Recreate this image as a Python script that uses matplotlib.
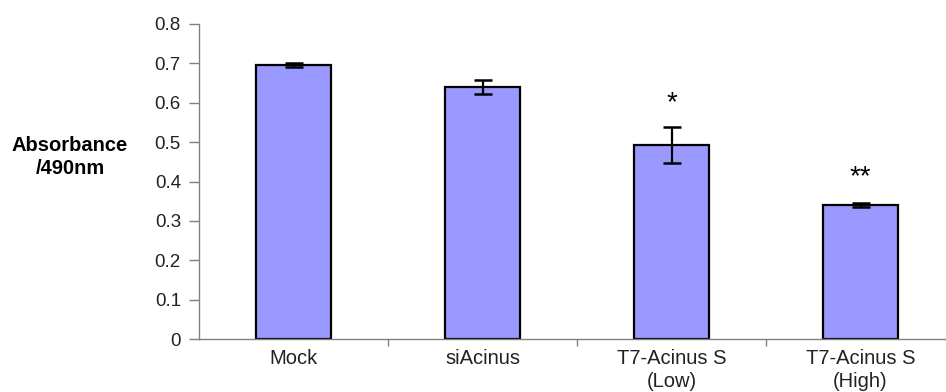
import matplotlib.pyplot as plt
import numpy as np

# data
categories = ['Mock', 'siAcinus', 'T7-Acinus S\n(Low)', 'T7-Acinus S\n(High)']
absorbance = [0.695, 0.639, 0.492, 0.340]
errors = [0.005, 0.018, 0.046, 0.005]
marks = ['', '', '*', '**']
mark_y = [None, None, 0.60, 0.41]

plt.rcParams['font.family'] = ['Liberation Sans', 'DejaVu Sans']

fig = plt.figure(figsize=(9.46, 3.92), dpi=100)
# axes run a little past the right edge of the figure, like the original
ax = fig.add_axes([199 / 946, (392 - 339) / 392, 756 / 946, 315 / 392])

x = np.arange(len(categories))
ax.bar(x, absorbance, width=0.40, color='#9999FF', edgecolor='black', linewidth=1.6, zorder=2)
ax.errorbar(x, absorbance, yerr=errors, fmt='none', ecolor='black', elinewidth=1.6,
            capsize=6.8, capthick=1.8, zorder=3)

for xi, m, my in zip(x, marks, mark_y):
    if m:
        ax.text(xi, my, m, ha='center', va='center', fontsize=20)

ax.set_xlim(-0.5, len(categories) - 0.5)
ax.set_ylim(0, 0.8)
ax.set_yticks(np.arange(0, 0.81, 0.1))
ax.set_yticklabels(['0'] + [f'{v:.1f}' for v in np.arange(0.1, 0.81, 0.1)])

ax.set_xticks(x)
ax.set_xticklabels(categories, fontsize=14.5, linespacing=1.3)
ax.set_xticks(np.arange(0.5, len(categories) - 0.5, 1.0), minor=True)
ax.tick_params(axis='x', which='major', length=0, pad=7, colors='#222222')
ax.tick_params(axis='x', which='minor', length=5, width=1, color='#808080')
ax.tick_params(axis='y', length=7, width=1, color='#808080', labelsize=13.5,
               labelcolor='#222222', pad=6)

for side in ['top', 'right']:
    ax.spines[side].set_visible(False)
for side in ['left', 'bottom']:
    ax.spines[side].set_color('#808080')
    ax.spines[side].set_linewidth(1)

fig.text(70 / 946, 1 - 157 / 392, 'Absorbance\n/490nm', ha='center', va='center',
         fontsize=14.5, fontweight='bold', linespacing=1.3)

fig.savefig('out.png', dpi=100)
